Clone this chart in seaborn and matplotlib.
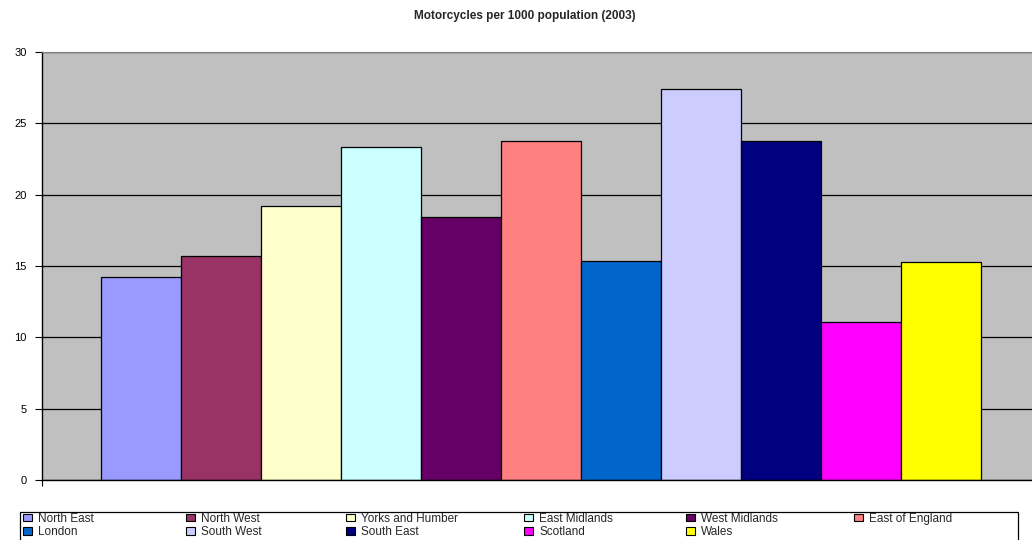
import pandas as pd
import matplotlib
matplotlib.use('Agg')
import matplotlib.pyplot as plt
import seaborn as sns
from matplotlib.patches import Patch, Rectangle

# Data
regions = ['North East', 'North West', 'Yorks and Humber', 'East Midlands',
           'West Midlands', 'East of England', 'London', 'South West',
           'South East', 'Scotland', 'Wales']
values = [14.23, 15.72, 19.2, 23.31, 18.41, 23.75, 15.36, 27.39, 23.75, 11.09, 15.28]
colors = ['#9999FF', '#993366', '#FFFFCC', '#CCFFFF', '#660066', '#FF8080',
          '#0066CC', '#CCCCFF', '#000080', '#FF00FF', '#FFFF00']
year = '2003'

df = pd.DataFrame({'region': regions, 'value': values, 'year': year})

sns.set_style('white')
plt.rcParams['font.family'] = ['Liberation Sans', 'DejaVu Sans']

W, H = 1032, 540
fig = plt.figure(figsize=(W / 100, H / 100), dpi=100)
# plot area runs off the right edge, like the original
ax = fig.add_axes([42 / W, 60 / H, 998 / W, 428 / H])
ax.set_facecolor('#C0C0C0')

sns.barplot(data=df, x='year', y='value', hue='region', hue_order=regions,
            palette=colors, saturation=1, width=0.882, edgecolor='black',
            linewidth=0.9, legend=False, ax=ax)

ax.set_xlim(-0.5, 0.5)
ax.set_ylim(0, 30)
ax.set_yticks(range(0, 31, 5))
ax.yaxis.grid(True, color='black', linewidth=0.9)
ax.set_axisbelow(True)
ax.set_xticks([-0.5])
ax.set_xticklabels([''])
ax.tick_params(axis='x', bottom=True, length=4, width=0.8, color='black', direction='out')
ax.tick_params(axis='y', left=True, length=5, width=0.8, color='black', direction='out',
               labelsize=8, pad=6, labelcolor='black')
ax.set_xlabel('')
ax.set_ylabel('')
ax.spines['left'].set_color('black')
ax.spines['bottom'].set_color('black')
ax.spines['left'].set_linewidth(1)
ax.spines['bottom'].set_linewidth(1)
ax.spines['top'].set_color('#808080')
ax.spines['right'].set_visible(False)

fig.text(525 / W, 1 - 16 / H, 'Motorcycles per 1000 population (2003)',
         ha='center', va='center', fontsize=8.5, fontweight='bold')

# legend: box + 6 columns placed like the Excel layout (row by row)
fig.patches.append(Rectangle((20 / W, -0.05), 998 / W, 0.05 + 28 / H,
                             transform=fig.transFigure, facecolor='white',
                             edgecolor='black', linewidth=0.9, zorder=1))
col_x = [21, 184, 344, 522, 684, 852]
for c, x in enumerate(col_x):
    idx = [i for i in (c, c + 6) if i < len(regions)]
    handles = [Patch(facecolor=colors[i], edgecolor='black', linewidth=0.8,
                     label=regions[i]) for i in idx]
    fig.legend(handles=handles, loc='upper left',
               bbox_to_anchor=(x / W, 1 - 511 / H), bbox_transform=fig.transFigure,
               frameon=False, fontsize=8.5, borderpad=0.15, labelspacing=0.12,
               handlelength=0.8, handleheight=0.6, handletextpad=0.5,
               borderaxespad=0)

fig.savefig('out.png', dpi=100)
